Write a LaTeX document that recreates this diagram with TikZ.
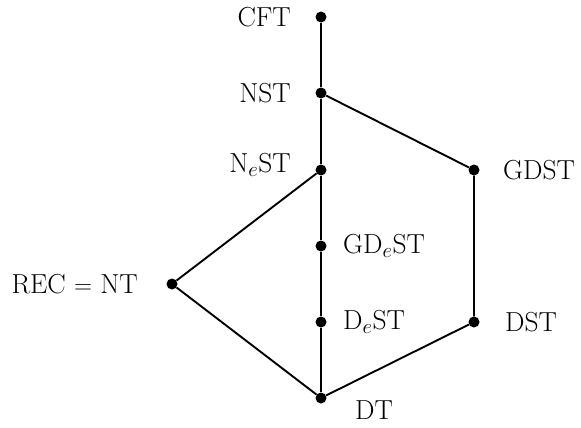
\documentclass[tikz,border=0pt]{standalone}
\begin{document}
\begin{tikzpicture}[x=1pt,y=-1pt,
  pt/.style={circle,fill=black,inner sep=0pt,minimum size=11pt},
  lbl/.style={font=\fontsize{27.5}{32}\selectfont,inner sep=0pt},
  edge/.style={line width=1.9pt}]
\useasboundingbox (0,0) rectangle (581,428);
\node[pt] (cft) at (321,17) {};
\node[pt] (nst) at (321,93) {};
\node[pt] (nest) at (321,170) {};
\node[pt] (gdest) at (321,246) {};
\node[pt] (dest) at (321,322) {};
\node[pt] (dt) at (321,398) {};
\node[pt] (gdst) at (474,170) {};
\node[pt] (dst) at (474,322) {};
\node[pt] (rec) at (172,284) {};
\draw[edge] (cft) -- (nst) -- (nest) -- (gdest) -- (dest) -- (dt);
\draw[edge] (nst) -- (gdst) -- (dst) -- (dt);
\draw[edge] (nest) -- (rec) -- (dt);
\node[lbl,anchor=east] (lcft) at (291,17) {CFT};
\node[lbl,anchor=east] (lnst) at (291,93) {NST};
\node[lbl,anchor=east] (lnest) at (291,165) {N$_e$ST};
\node[lbl,anchor=west] (lgdest) at (343,246) {GD$_e$ST};
\node[lbl,anchor=west] (ldest) at (343,322) {D$_e$ST};
\node[lbl,anchor=west] (ldt) at (355,410) {DT};
\node[lbl,anchor=west] (lgdst) at (503,170) {GDST};
\node[lbl,anchor=west] (ldst) at (505,322) {DST};
\node[lbl,anchor=east] (lrec) at (138,284) {REC $=$ NT};
\end{tikzpicture}
\end{document}
